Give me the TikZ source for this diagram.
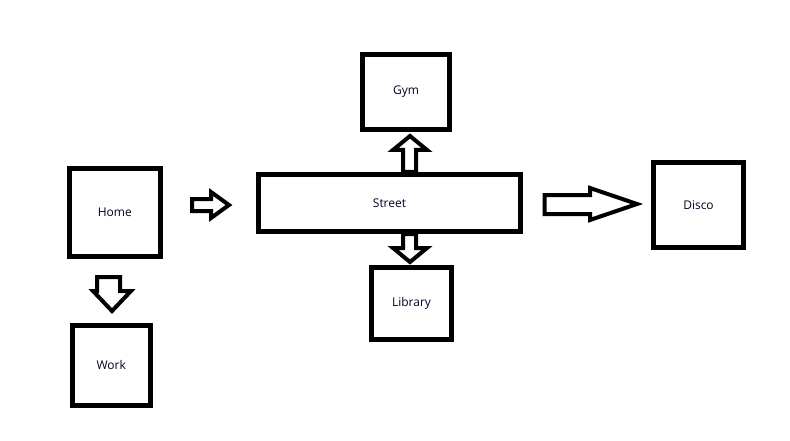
\documentclass[tikz,border=0pt]{standalone}
\usepackage{fontspec}
\setmainfont{Open Sans}
\begin{document}
\begin{tikzpicture}[x=1pt,y=-1pt,
  box/.style={draw=black, line width=5pt, fill=white, inner sep=0pt,
    font=\fontsize{12}{14}\selectfont, text=black!85!blue},
  blockarrow/.style={draw=black, line width=4pt, line join=miter, fill=white}]
\useasboundingbox (0,0) rectangle (790,441);
\fill[white] (0,0) rectangle (790,441);
\node[box, minimum width=90.5pt, minimum height=88pt] (home) at (114.75,212.5) {Home};
\node[box, minimum width=77.5pt, minimum height=79.5pt] (work) at (111.25,365.25) {Work};
\node[box, minimum width=87pt, minimum height=75pt] (gym) at (406,92) {Gym};
\node[box, minimum width=262pt, minimum height=57pt] (street) at (389.5,203) {Street};
\node[box, minimum width=80pt, minimum height=72pt] (library) at (411.5,303.5) {Library};
\node[box, minimum width=90pt, minimum height=85pt] (disco) at (698.5,205) {Disco};
% Home -> Street
\draw[blockarrow] (192,199) -- (211,199) -- (211,192) -- (229,205) -- (211,218) -- (211,211) -- (192,211) -- cycle;
% Street -> Gym
\draw[blockarrow] (street.north -| 403,0) -- (403,150) -- (393,150) -- (410,136) -- (427,150) -- (416,150) -- (street.north -| 416,0) -- cycle;
% Street -> Library
\draw[blockarrow] (street.south -| 403,0) -- (403,248) -- (393,248) -- (410,262) -- (427,248) -- (416,248) -- (street.south -| 416,0) -- cycle;
% Home -> Work
\draw[blockarrow] (97,277) -- (120,277) -- (120,291) -- (131,291) -- (112,311) -- (93,291) -- (97,291) -- cycle;
% Street -> Disco
\draw[blockarrow] (544.5,195) -- (590,195) -- (590,188) -- (637,204) -- (590,220) -- (590,214) -- (544.5,214) -- cycle;
\end{tikzpicture}
\end{document}
